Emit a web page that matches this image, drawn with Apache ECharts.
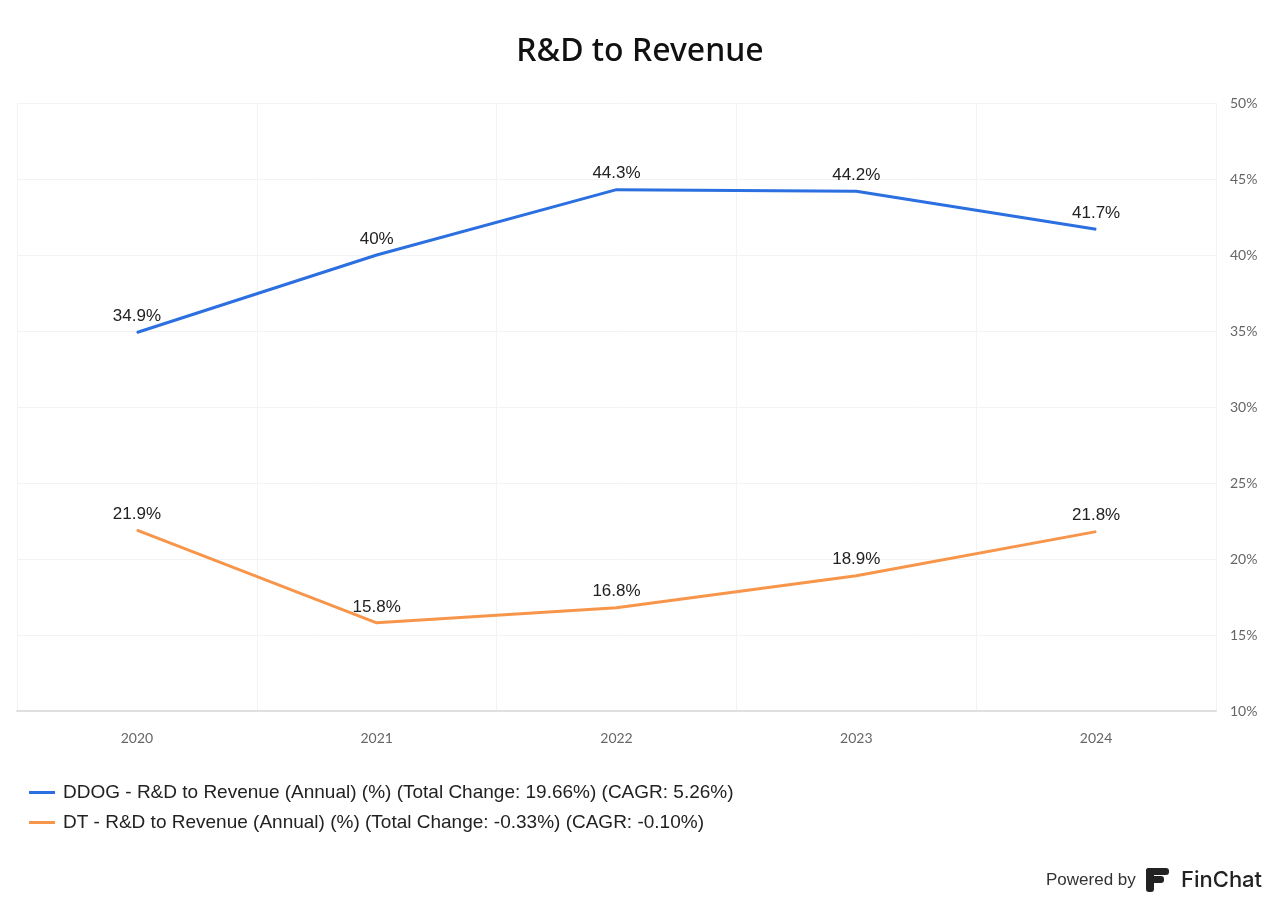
<!DOCTYPE html>
<html>
<head>
<meta charset="utf-8">
<script src="https://cdn.jsdelivr.net/npm/echarts@6/dist/echarts.min.js"></script>
<style>
html,body{margin:0;padding:0;background:#fff;}
#chart{width:1280px;height:907px;}
</style>
</head>
<body>
<div id="chart"></div>
<script>
const categories = ['2020', '2021', '2022', '2023', '2024'];
const ddogValues = [34.9, 40, 44.3, 44.2, 41.7];
const dtValues = [21.9, 15.8, 16.8, 18.9, 21.8];
const seriesNames = [
  'DDOG - R&D to Revenue (Annual) (%) (Total Change: 19.66%) (CAGR: 5.26%)',
  'DT - R&D to Revenue (Annual) (%) (Total Change: -0.33%) (CAGR: -0.10%)'
];
const yTicks = { min: 10, max: 50, interval: 5 };

const chart = echarts.init(document.getElementById('chart'));
const labelStyle = {
  show: true, position: 'top', distance: 7,
  formatter: p => p.value + '%',
  color: '#222', fontSize: 17, fontFamily: 'Arial, "Liberation Sans", sans-serif'
};
chart.setOption({
  backgroundColor: '#fff',
  animation: false,
  title: {
    text: 'R&D to Revenue', left: 'center', top: 31,
    textStyle: { fontSize: 32, fontWeight: 500, color: '#111', fontFamily: '"Noto Sans", sans-serif' }
  },
  grid: { left: 17, right: 64, top: 103, bottom: 196 },
  xAxis: {
    type: 'category', data: categories, boundaryGap: true,
    axisLine: { show: true, lineStyle: { color: '#e0e0e0', width: 2 } },
    axisTick: { show: false },
    axisLabel: { color: '#666', fontSize: 14, margin: 20, fontFamily: 'Lato, sans-serif' },
    splitLine: { show: true, lineStyle: { color: '#f3f3f3', width: 1 } }
  },
  yAxis: {
    type: 'value', position: 'right', min: yTicks.min, max: yTicks.max, interval: yTicks.interval,
    axisLine: { show: false }, axisTick: { show: false },
    axisLabel: { color: '#666', fontSize: 14, margin: 14, formatter: '{value}%', fontFamily: 'Lato, sans-serif' },
    splitLine: { show: true, lineStyle: { color: '#f3f3f3', width: 1 } }
  },
  legend: {
    orient: 'vertical', left: 24, top: 778, itemGap: 11,
    itemWidth: 26, itemHeight: 3, icon: 'rect',
    itemStyle: { opacity: 1 },
    textStyle: { color: '#222', fontSize: 19, padding: [0, 0, 0, 3], fontFamily: 'Arial, "Liberation Sans", sans-serif' },
    data: seriesNames
  },
  series: [
    { name: seriesNames[0], type: 'line', data: ddogValues, color: '#2b6fe0',
      lineStyle: { width: 3 }, symbol: 'circle', symbolSize: 1, showSymbol: true,
      label: labelStyle },
    { name: seriesNames[1], type: 'line', data: dtValues, color: '#f7964a',
      lineStyle: { width: 3 }, symbol: 'circle', symbolSize: 1, showSymbol: true,
      label: labelStyle }
  ],
  graphic: [
    { type: 'text', left: 1046, top: 872,
      style: { text: 'Powered by', fill: '#333', fontSize: 17, fontFamily: 'Arial, "Liberation Sans", sans-serif' } },
    { type: 'group', left: 1146, top: 868, children: [
      { type: 'rect', shape: { x: 0, y: 0, width: 23, height: 7, r: 3 }, style: { fill: '#222' } },
      { type: 'rect', shape: { x: 0, y: 8, width: 18, height: 7, r: 3 }, style: { fill: '#222' } },
      { type: 'rect', shape: { x: 0, y: 0, width: 8, height: 24, r: 3 }, style: { fill: '#222' } }
    ]},
    { type: 'text', left: 1181, top: 869,
      style: { text: 'FinChat', fill: '#222', fontSize: 22, fontFamily: 'Inter, sans-serif', fontWeight: 500 } }
  ]
});
</script>
</body>
</html>
